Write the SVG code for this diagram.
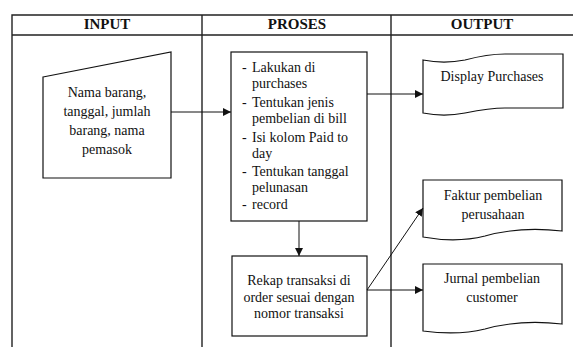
<svg xmlns="http://www.w3.org/2000/svg" width="573" height="347" viewBox="0 0 573 347">
<style>
text{font-family:"Liberation Serif","Times New Roman",serif;font-size:14px;fill:#111}
.h{font-weight:bold;font-size:15px;text-anchor:middle}
.c{text-anchor:middle}
.grid{stroke:#222;stroke-width:1.4;fill:none}
.shape{fill:#fff;stroke:#111;stroke-width:1.2}
.conn{stroke:#111;stroke-width:1;fill:none}
</style>
<defs>
<marker id="ah" viewBox="0 0 10 10" refX="10" refY="5" markerWidth="8" markerHeight="8" markerUnits="userSpaceOnUse" orient="auto">
<path d="M0,0 L10,5 L0,10 Z" fill="#111"/>
</marker>
</defs>
<rect width="573" height="347" fill="#fff"/>
<g id="table">
<path class="grid" d="M12,347 V15 H573 M12,35 H573 M202,15 V347 M391,15 V347"/>
<text class="h" x="107" y="29">INPUT</text>
<text class="h" x="297" y="29">PROSES</text>
<text class="h" x="482" y="29">OUTPUT</text>
</g>
<g id="input">
<path class="shape" d="M43,77 L171,52 L171,178 L43,178 Z"/>
<text class="c" x="107" y="97">Nama barang,</text>
<text class="c" x="107" y="116">tanggal, jumlah</text>
<text class="c" x="107" y="135">barang, nama</text>
<text class="c" x="107" y="154">pemasok</text>
</g>
<g id="proses">
<rect class="shape" x="231" y="52" width="136" height="169"/>
<g>
<text x="242" y="72">-</text><text x="252" y="72">Lakukan di</text>
<text x="252" y="88">purchases</text>
<text x="242" y="107">-</text><text x="252" y="107">Tentukan jenis</text>
<text x="252" y="123">pembelian di bill</text>
<text x="242" y="142">-</text><text x="252" y="142">Isi kolom Paid to</text>
<text x="252" y="158">day</text>
<text x="242" y="176">-</text><text x="252" y="176">Tentukan tanggal</text>
<text x="252" y="192">pelunasan</text>
<text x="242" y="209">-</text><text x="252" y="209">record</text>
</g>
</g>
<g id="rekap">
<rect class="shape" x="232" y="256" width="135" height="80"/>
<text class="c" x="299" y="285">Rekap transaksi di</text>
<text class="c" x="299" y="302">order sesuai dengan</text>
<text class="c" x="299" y="318">nomor transaksi</text>
</g>
<g id="display">
<path class="shape" d="M423,60 C438,63 450,63 465,60 C480,56 490,54 505,54 L563,54 L563,108 L505,108 C490,108 480,110 465,113 C450,116 438,116 423,113 Z"/>
<text class="c" x="492" y="81">Display Purchases</text>
</g>
<g id="faktur">
<path class="shape" d="M423,180 H562 V231 C535,228 510,229 485,236 C465,241 445,241 423,237 Z"/>
<text class="c" x="493" y="200">Faktur pembelian</text>
<text class="c" x="493" y="219">perusahaan</text>
</g>
<g id="jurnal">
<path class="shape" d="M423,264 H562 V324 C535,321 510,322 485,329 C465,334 445,334 423,331 Z"/>
<text class="c" x="492" y="283">Jurnal pembelian</text>
<text class="c" x="492" y="302">customer</text>
</g>
<g id="connectors">
<line class="conn" x1="171" y1="112" x2="231" y2="112" marker-end="url(#ah)"/>
<line class="conn" x1="367" y1="94" x2="423" y2="94" marker-end="url(#ah)"/>
<line class="conn" x1="299" y1="221" x2="299" y2="256" marker-end="url(#ah)"/>
<line class="conn" x1="367" y1="290" x2="423" y2="208" marker-end="url(#ah)"/>
<line class="conn" x1="367" y1="290" x2="423" y2="290" marker-end="url(#ah)"/>
</g>
</svg>
